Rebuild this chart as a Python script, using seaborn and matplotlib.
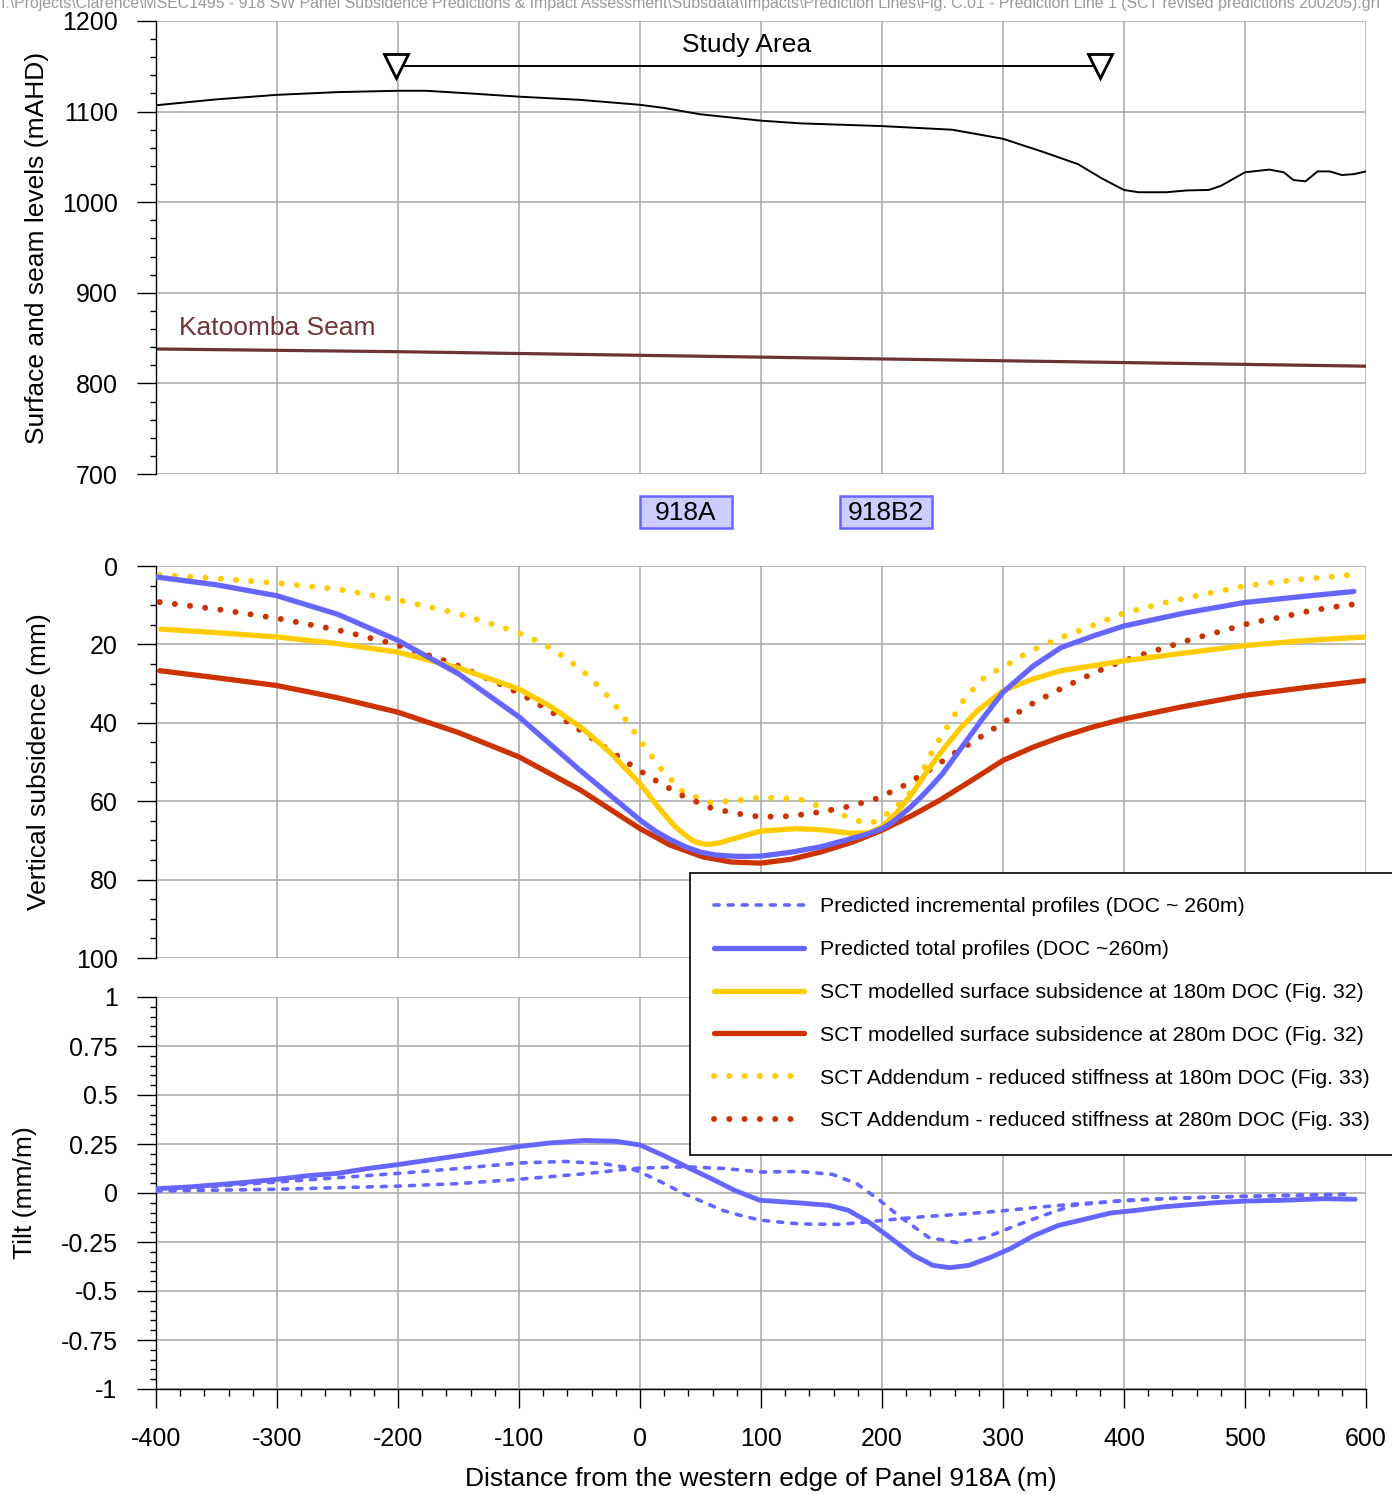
import numpy as np
import pandas as pd
import matplotlib
matplotlib.use("Agg")
import matplotlib.pyplot as plt
import matplotlib.transforms as mtransforms
from matplotlib.patches import Rectangle
from matplotlib.ticker import MultipleLocator, FuncFormatter
import seaborn as sns

# ---------------- data ----------------
surf_x = [-400, -350, -300, -250, -200, -177, -140, -100, -50, 0, 20, 50, 100, 133, 200, 258,
          300, 332, 362, 382, 400, 412, 435, 452, 470, 480, 492, 500, 520, 532, 540, 550,
          560, 570, 580, 590, 600]
surf_y = [1107, 1113.5, 1118.5, 1121.5, 1123, 1123, 1120, 1116.5, 1113, 1107.5, 1104, 1097, 1090,
          1087, 1084, 1080, 1070, 1056, 1042, 1026, 1013.5, 1011, 1011, 1013, 1013.5, 1018, 1027,
          1033, 1036, 1033, 1024.5, 1023, 1034, 1034, 1030, 1031, 1034]

seam_x = [-400, -200, 0, 200, 400, 600]
seam_y = [838, 835, 831, 827, 823, 819]

study_x = [-202, 380]
study_y = [1150, 1150]

# vertical subsidence (mm)
tot_x = [-400, -350, -300, -250, -200, -150, -100, -50, 0, 12, 25, 38, 50, 62, 75, 88, 100, 125,
         150, 175, 188, 200, 208, 216, 224, 232, 241, 250, 266, 283, 300, 325, 348, 375, 400, 450,
         500, 550, 590]
tot_y = [2.8, 4.8, 7.6, 12.3, 19.0, 27.5, 38.5, 52.0, 64.8, 67.5, 69.8, 71.7, 73.0, 73.7, 74.0,
         74.1, 74.0, 73.0, 71.6, 69.5, 68.4, 67.0, 65.5, 63.5, 61.4, 59.0, 56.1, 53.0, 46.2, 39.0,
         32.2, 25.5, 20.8, 17.8, 15.3, 12.0, 9.3, 7.7, 6.5]

y180_x = [-396, -350, -300, -250, -200, -150, -100, -75, -49, -25, 0, 15, 29, 38, 45, 52, 58, 66,
          75, 100, 129, 150, 175, 190, 200, 212, 225, 238, 252, 265, 279, 300, 325, 348, 375, 400,
          450, 500, 550, 600]
y180_y = [16.1, 17.0, 18.1, 19.8, 22.0, 26.0, 31.4, 35.6, 41.1, 47.5, 55.5, 61.5, 66.5, 68.8, 70.3,
          70.9, 71.0, 70.6, 69.8, 67.6, 67.0, 67.3, 68.2, 68.0, 66.5, 63.0, 58.0, 52.0, 46.2, 41.3,
          36.9, 31.8, 28.8, 26.7, 25.4, 24.2, 22.2, 20.3, 19.0, 18.1]

r280_x = [-397, -350, -300, -250, -200, -150, -100, -49, 0, 25, 52, 75, 100, 125, 150, 175, 200,
          225, 248, 275, 300, 325, 348, 375, 400, 450, 500, 550, 600]
r280_y = [26.7, 28.5, 30.5, 33.6, 37.3, 42.5, 48.7, 57.2, 67.0, 71.2, 74.2, 75.5, 75.8, 74.8, 72.9,
          70.5, 67.4, 63.6, 59.7, 54.5, 49.6, 46.2, 43.6, 41.0, 39.0, 35.8, 33.0, 31.0, 29.2]

ya_x = [-397, -348, -299, -250, -201, -152, -105, -82, -61, -42, -25, -10, 4, 19, 36, 58, 85, 100,
        132, 157, 181, 192, 209, 226, 242, 256, 269, 286, 300, 322, 346, 369, 400, 432, 466, 500,
        539, 587]
ya_y = [2.3, 3.2, 4.4, 5.9, 8.6, 12.0, 16.5, 19.5, 23.5, 28.2, 33.7, 40.0, 46.2, 52.4, 57.8, 60.3,
        59.7, 59.0, 59.5, 62.3, 65.1, 65.5, 62.3, 57.0, 47.0, 40.0, 33.5, 28.0, 25.8, 21.8, 18.5,
        15.8, 12.0, 9.5, 7.2, 5.1, 3.6, 2.3]

ra_x = [-397, -348, -299, -250, -203, -156, -110, -89, -67, -46, -26, -5, 16, 37, 60, 85, 100,
        125, 150, 175, 196, 217, 239, 259, 279, 300, 320, 344, 366, 389, 412, 434, 459, 482, 506,
        531, 554, 579, 592]
ra_y = [9.2, 11.1, 13.4, 16.3, 19.9, 24.7, 30.9, 34.3, 38.4, 42.6, 46.9, 51.3, 55.3, 58.9, 61.9,
        63.4, 64.0, 63.8, 62.7, 61.2, 59.3, 56.2, 52.1, 47.9, 44.1, 40.0, 35.8, 31.9, 28.6, 25.4,
        22.9, 20.8, 18.4, 16.5, 14.4, 13.0, 11.4, 10.2, 9.7]

# tilt (mm/m)
tilt_tot_x = [-400, -375, -350, -325, -300, -275, -250, -225, -200, -150, -100, -75, -46, -20, 0,
              20, 39, 60, 78, 99, 132, 156, 172, 189, 206, 226, 242, 256, 272, 289, 306, 326, 346,
              366, 389, 411, 432, 476, 501, 532, 566, 591]
tilt_tot_y = [0.022, 0.03, 0.042, 0.055, 0.07, 0.088, 0.10, 0.125, 0.145, 0.19, 0.237, 0.255,
              0.268, 0.264, 0.245, 0.19, 0.132, 0.07, 0.014, -0.037, -0.051, -0.063, -0.088,
              -0.148, -0.224, -0.318, -0.369, -0.381, -0.369, -0.33, -0.284, -0.216, -0.165,
              -0.136, -0.102, -0.088, -0.071, -0.049, -0.041, -0.037, -0.029, -0.032]

inc1_x = [-400, -350, -300, -250, -200, -150, -100, -62, -30, -10, 0, 18, 36, 52, 68, 85, 100,
          132, 166, 200, 232, 265, 298, 330, 365, 400, 432, 466, 499, 540, 582]
inc1_y = [0.014, 0.035, 0.056, 0.078, 0.10, 0.125, 0.153, 0.161, 0.149, 0.13, 0.107, 0.055,
          -0.003, -0.045, -0.088, -0.118, -0.139, -0.158, -0.16, -0.14, -0.122, -0.108, -0.092,
          -0.072, -0.054, -0.04, -0.029, -0.022, -0.017, -0.012, -0.007]

inc2_x = [-400, -300, -200, -150, -100, -46, -10, 0, 36, 70, 100, 132, 159, 179, 198, 215, 239,
          262, 285, 315, 340, 358, 400, 450, 500, 583]
inc2_y = [0.01, 0.019, 0.035, 0.048, 0.07, 0.098, 0.122, 0.127, 0.134, 0.125, 0.107, 0.11, 0.095,
          0.048, -0.037, -0.122, -0.228, -0.253, -0.228, -0.156, -0.1, -0.063, -0.037, -0.025,
          -0.017, -0.007]

panel_names = ["918A", "918B2"]
panel_x0 = [0, 165]
panel_x1 = [76, 241]

labels_legend = ["Predicted incremental profiles (DOC ~ 260m)",
                 "Predicted total profiles (DOC ~260m)",
                 "SCT modelled surface subsidence at 180m DOC (Fig. 32)",
                 "SCT modelled surface subsidence at 280m DOC (Fig. 32)",
                 "SCT Addendum - reduced stiffness at 180m DOC (Fig. 33)",
                 "SCT Addendum - reduced stiffness at 280m DOC (Fig. 33)"]

header = ("I:\\Projects\\Clarence\\MSEC1495 - 918 SW Panel Subsidence Predictions & Impact Assessment"
          "\\Subsdata\\Impacts\\Prediction Lines\\Fig. C.01 - Prediction Line 1 (SCT revised predictions 200205).grf")

BLUE = "#6666ff"
YEL = "#ffcc00"
RED = "#cc3300"
SEAM = "#6b3333"

# ---------------- style ----------------
sns.set_theme(style="white")
plt.rcParams['font.family'] = ['Liberation Sans', 'DejaVu Sans']
plt.rcParams['axes.unicode_minus'] = False

W, H = 1392, 1495
fig = plt.figure(figsize=(W / 100, H / 100), dpi=100)


def rect(l, t, r, b):
    return [l / W, 1 - b / H, (r - l) / W, (b - t) / H]


ax_top = fig.add_axes(rect(156, 21, 1366, 474))
ax_mid = fig.add_axes(rect(156, 566, 1366, 958))
ax_bot = fig.add_axes(rect(156, 997, 1366, 1389))

for ax in (ax_top, ax_mid, ax_bot):
    ax.set_facecolor("white")
    ax.set_xlim(-400, 600)
    ax.xaxis.set_major_locator(MultipleLocator(100))
    ax.grid(True, which="major", color="#a8a8a8", lw=1.1)
    ax.set_axisbelow(True)
    for s in ("top", "right", "bottom"):
        ax.spines[s].set_visible(False)
    ax.spines["left"].set_color("black")
    ax.spines["left"].set_linewidth(1.0)
    ax.tick_params(axis="y", which="major", left=True, direction="out", length=13.7, width=1.0,
                   color="black", labelsize=18, pad=14, labelcolor="black")
    ax.tick_params(axis="y", which="minor", left=True, direction="out", length=4.5, width=1.0,
                   color="black")

for ax in (ax_top, ax_mid):
    ax.tick_params(axis="x", which="both", bottom=False, labelbottom=False)


def styled(ax, ls, cap="round"):
    ln = ax.get_lines()[-1]
    ln.set_linestyle(ls)
    ln.set_dash_capstyle(cap)
    return ln


# top panel
ax_top.set_ylim(700, 1200)
ax_top.yaxis.set_major_locator(MultipleLocator(100))
ax_top.yaxis.set_minor_locator(MultipleLocator(20))
sns.lineplot(x=surf_x, y=surf_y, ax=ax_top, color="black", lw=1.4, errorbar=None, legend=False)
sns.lineplot(x=seam_x, y=seam_y, ax=ax_top, color=SEAM, lw=2.3, errorbar=None, legend=False)
ax_top.plot(study_x, study_y, color="black", lw=1.4, zorder=3)
ax_top.plot(study_x, study_y, ls="none", marker="v", ms=17, mfc="white", mec="black", mew=2,
            zorder=4)
ax_top.text(88, 1174, "Study Area", ha="center", va="center", fontsize=19, color="black")
ax_top.text(-381, 861, "Katoomba Seam", ha="left", va="center", fontsize=19, color="#703535")
ax_top.set_ylabel("Surface and seam levels (mAHD)", fontsize=19, color="black")
ax_top.yaxis.set_label_coords(-0.0884, 0.5)

# middle panel
ax_mid.set_ylim(100, 0)
ax_mid.yaxis.set_major_locator(MultipleLocator(20))
ax_mid.yaxis.set_minor_locator(MultipleLocator(5))
dot = (0, (0.01, 2.55))
sns.lineplot(x=ya_x, y=ya_y, ax=ax_mid, color=YEL, lw=4.3, errorbar=None, legend=False,
             label=labels_legend[4], zorder=3)
styled(ax_mid, dot)
sns.lineplot(x=ra_x, y=ra_y, ax=ax_mid, color=RED, lw=4.3, errorbar=None, legend=False,
             label=labels_legend[5], zorder=3)
styled(ax_mid, dot)
sns.lineplot(x=y180_x, y=y180_y, ax=ax_mid, color=YEL, lw=3.8, errorbar=None, legend=False,
             label=labels_legend[2], zorder=4)
sns.lineplot(x=r280_x, y=r280_y, ax=ax_mid, color=RED, lw=3.8, errorbar=None, legend=False,
             label=labels_legend[3], zorder=4)
sns.lineplot(x=tot_x, y=tot_y, ax=ax_mid, color=BLUE, lw=3.8, errorbar=None, legend=False,
             label=labels_legend[1], zorder=5)
ax_mid.set_ylabel("Vertical subsidence (mm)", fontsize=19, color="black")
ax_mid.yaxis.set_label_coords(-0.0868, 0.5)

# panel labels
trans = mtransforms.blended_transform_factory(ax_mid.transData, fig.transFigure)
for name, x0, x1 in zip(panel_names, panel_x0, panel_x1):
    fig.patches.append(Rectangle((x0, 1 - 528 / H), x1 - x0, 32 / H, transform=trans,
                                 facecolor="#ccccff", edgecolor=BLUE, lw=1.8))
    fig.text((x0 + x1) / 2, 1 - 513 / H, name, transform=trans, ha="center", va="center",
             fontsize=19, color="black")

# bottom panel
ax_bot.set_ylim(-1, 1)
ax_bot.yaxis.set_major_locator(MultipleLocator(0.25))
ax_bot.yaxis.set_minor_locator(MultipleLocator(0.05))
ax_bot.xaxis.set_minor_locator(MultipleLocator(20))
ax_bot.spines["bottom"].set_visible(True)
ax_bot.spines["bottom"].set_color("black")
ax_bot.spines["bottom"].set_linewidth(1.0)
ax_bot.tick_params(axis="x", which="major", bottom=True, direction="out", length=13.7, width=1.0,
                   color="black", labelsize=18, pad=14, labelcolor="black")
ax_bot.tick_params(axis="x", which="minor", bottom=True, direction="out", length=5, width=1.0,
                   color="black")
ax_bot.yaxis.set_major_formatter(FuncFormatter(lambda v, p: "0" if abs(v) < 1e-9 else "%g" % v))
ax_bot.xaxis.set_major_formatter(FuncFormatter(lambda v, p: "%d" % round(v)))
dash = (0, (1.4, 2.5))
sns.lineplot(x=inc1_x, y=inc1_y, ax=ax_bot, color=BLUE, lw=2.6, errorbar=None, legend=False,
             label=labels_legend[0], zorder=3)
styled(ax_bot, dash)
sns.lineplot(x=inc2_x, y=inc2_y, ax=ax_bot, color=BLUE, lw=2.6, errorbar=None, legend=False,
             zorder=3)
styled(ax_bot, dash)
sns.lineplot(x=tilt_tot_x, y=tilt_tot_y, ax=ax_bot, color=BLUE, lw=3.5, errorbar=None,
             legend=False, zorder=4)
ax_bot.set_ylabel("Tilt (mm/m)", fontsize=19, color="black")
ax_bot.yaxis.set_label_coords(-0.0983, 0.5)
ax_bot.set_xlabel("Distance from the western edge of Panel 918A (m)", fontsize=19, color="black")
ax_bot.xaxis.set_label_coords(0.5, -0.2)

# legend
hmap = {}
for ax in (ax_mid, ax_bot):
    for ln in ax.get_lines():
        if ln.get_label() in labels_legend:
            hmap[ln.get_label()] = ln
handles = [hmap[l] for l in labels_legend]
leg = fig.legend(handles, labels_legend, loc="upper left", bbox_to_anchor=(690 / W, 1 - 873 / H),
                 frameon=True, fancybox=False, edgecolor="black", framealpha=1, facecolor="white",
                 fontsize=15.3, handlelength=4.2, handletextpad=0.75, labelspacing=1.12,
                 borderpad=1.15, borderaxespad=0)
leg.get_frame().set_linewidth(1.2)
for t in leg.get_texts():
    t.set_color("black")
for lh in leg.get_lines():
    lh.set_dash_capstyle("round")

# header path text (partly cut off at the top, as in the source)
fig.text(0.001, 1 - 8 / H, header, ha="left", va="baseline", fontsize=11.4, color="#9a9a9a")

fig.savefig("out.png", dpi=100)
